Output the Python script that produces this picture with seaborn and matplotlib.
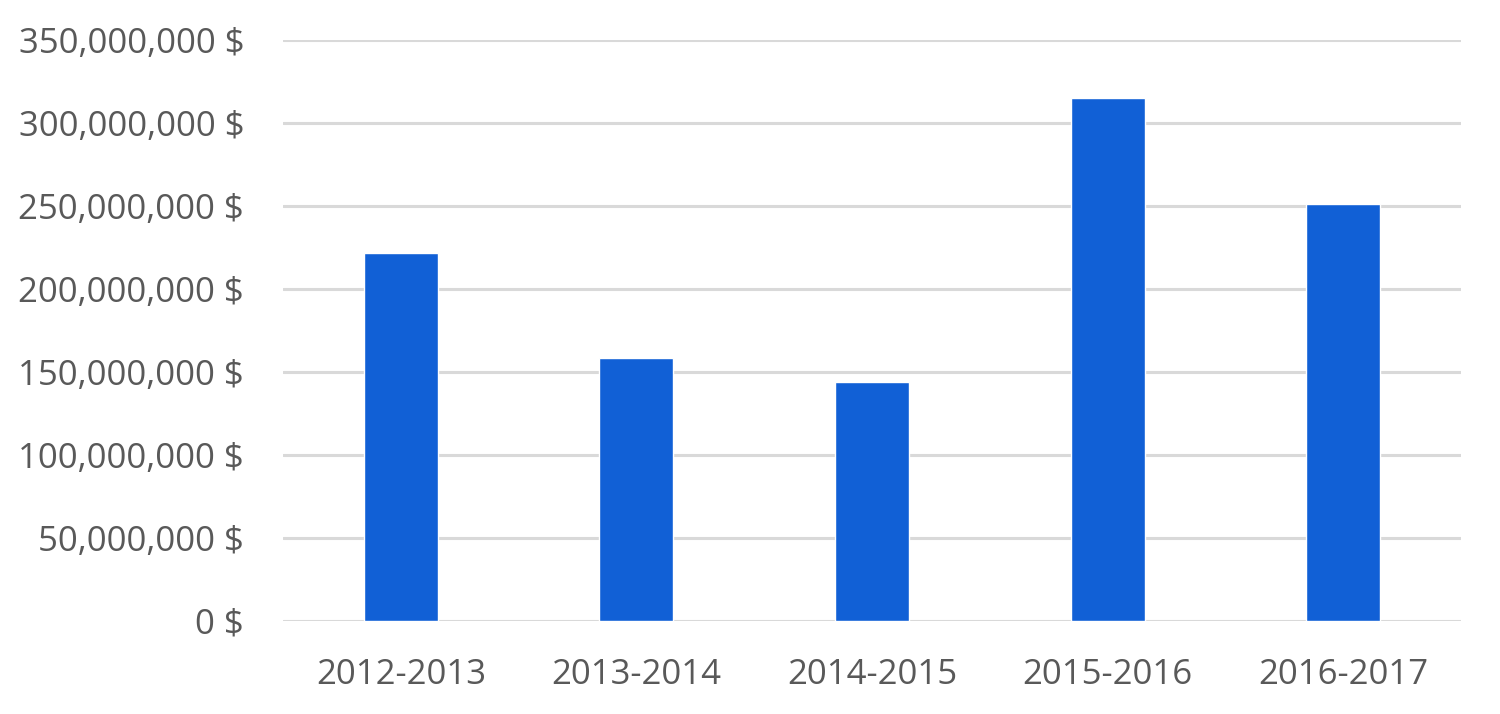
import matplotlib
matplotlib.use("Agg")
import matplotlib.pyplot as plt
import matplotlib.ticker as mticker
import pandas as pd
import seaborn as sns

# fiscal years and amounts (dollars)
years = ["2012-2013", "2013-2014", "2014-2015", "2015-2016", "2016-2017"]
amounts = [221_800_000, 158_400_000, 144_200_000, 314_800_000, 251_200_000]

df = pd.DataFrame({"year": years, "amount": amounts})

sns.set_theme(style="white")
plt.rcParams['font.family'] = ['Open Sans', 'DejaVu Sans']

fig = plt.figure(figsize=(15, 7.14), dpi=100)
ax = fig.add_axes([0.1887, 0.1303, 0.7853, 0.8137])

sns.barplot(data=df, x="year", y="amount", color="#1160D6", saturation=1,
            width=0.314, ax=ax, zorder=3)

ax.set_ylim(0, 350_000_000)
ax.set_xlim(-0.5, len(years) - 0.5)
ax.yaxis.set_major_locator(mticker.MultipleLocator(50_000_000))
ax.yaxis.set_major_formatter(mticker.FuncFormatter(lambda v, p: f"{int(v):,} $"))
ax.grid(axis="y", color="#D9D9D9", linewidth=2.2, zorder=0)
ax.set_axisbelow(True)

for s in ax.spines.values():
    s.set_visible(False)

ax.set_xlabel("")
ax.set_ylabel("")
ax.tick_params(axis="y", length=0, pad=28, labelsize=25, labelcolor="#595959")
ax.tick_params(axis="x", length=0, pad=27, labelsize=25, labelcolor="#595959")

fig.savefig("out.png", dpi=100)
